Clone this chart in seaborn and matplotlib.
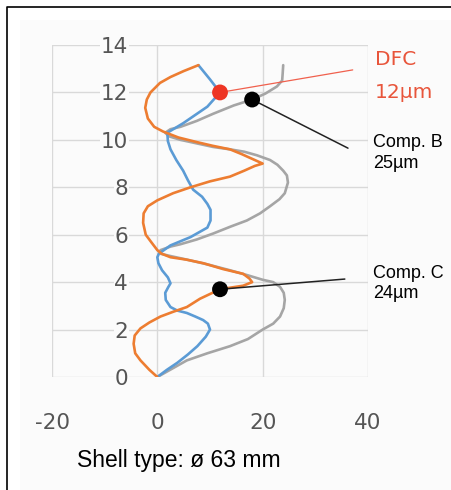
import pandas as pd
import matplotlib.pyplot as plt
import seaborn as sns
from matplotlib.lines import Line2D
from matplotlib.patches import Rectangle

# depth (y) vs deviation (x), bottom to top
blue_y = [0, 0.3, 0.6, 0.95, 1.3, 1.7, 2.0, 2.25, 2.4, 2.55, 2.7, 2.8, 2.95, 3.25, 3.55,
          3.8, 3.95, 4.2, 4.5, 4.8, 5.05, 5.2, 5.55, 5.9, 6.3, 6.6, 7.05, 7.3, 7.6, 7.9,
          8.3, 8.7, 9.15, 9.6, 9.95, 10.3, 10.7, 11.4, 12.0, 12.55, 13.15]
blue_x = [0, 1.8, 3.8, 5.8, 7.6, 9.2, 10.0, 9.6, 8.7, 7.2, 5.6, 3.8, 2.5, 1.6, 1.5,
          2.1, 2.5, 2.0, 0.9, 0.2, 0.0, 0.3, 2.5, 6.3, 9.5, 10.1, 10.1, 9.5, 8.5, 6.8,
          5.8, 4.9, 3.6, 2.5, 2.0, 1.9, 4.9, 9.5, 11.9, 10.0, 7.8]

orange_y = [0, 0.3, 0.7, 1.0, 1.4, 1.75, 2.05, 2.3, 2.55, 2.75, 2.95, 3.3, 3.7, 3.85, 4.0,
            4.15, 4.35, 4.55, 4.8, 4.95, 5.05, 5.2, 5.35, 5.7, 6.0, 6.5, 6.9, 7.2, 7.45,
            7.75, 8.0, 8.25, 8.45, 8.7, 8.9, 9.0, 9.15, 9.4, 9.6, 9.75, 9.9, 10.1, 10.35,
            10.55, 10.9, 11.35, 11.7, 12.0, 12.4, 12.65, 12.9, 13.15]
orange_x = [0, -1.5, -3.2, -4.2, -4.5, -4.3, -3.2, -1.5, 0.6, 3.0, 5.6, 8.1, 11.9, 16.3, 18.0,
            17.5, 16.3, 12.5, 8.7, 5.5, 2.5, 0.8, 0.0, -1.2, -2.2, -2.7, -2.6, -1.8, 0.0,
            3.0, 6.3, 10.0, 13.8, 16.5, 18.5, 20.0, 18.5, 16.0, 13.8, 10.5, 7.6, 4.0, 1.1,
            -0.6, -1.8, -2.3, -2.0, -1.3, 0.5, 2.5, 5.0, 7.8]

gray_y = [0, 0.35, 0.7, 1.0, 1.3, 1.6, 2.0, 2.25, 2.55, 2.9, 3.25, 3.55, 3.8, 4.0, 4.1,
          4.3, 4.5, 4.75, 4.95, 5.1, 5.2, 5.35, 5.5, 5.6, 5.8, 6.05, 6.35, 6.6, 6.9, 7.2,
          7.5, 7.75, 8.2, 8.5, 8.7, 8.95, 9.15, 9.35, 9.5, 9.6, 9.7, 9.85, 10.0, 10.15,
          10.3, 10.45, 10.55, 10.8, 11.1, 11.45, 11.7, 11.95, 12.25, 12.5, 12.8, 13.15]
gray_x = [0, 2.8, 5.6, 9.5, 13.8, 17.2, 20.0, 22.0, 23.3, 24.0, 24.2, 24.0, 23.3, 22.0, 20.0,
          17.0, 13.8, 9.5, 5.6, 2.5, 0.6, 0.6, 2.5, 4.4, 7.5, 10.6, 14.0, 17.0, 19.5, 21.4,
          23.2, 24.2, 24.8, 24.6, 23.9, 22.8, 21.4, 18.9, 16.5, 13.8, 10.6, 7.5, 4.4, 2.2,
          1.5, 2.5, 4.4, 7.5, 10.6, 14.5, 18.0, 20.5, 22.7, 23.7, 23.8, 23.9]

# marked points and where their callout lines end
dfc_pt = (11.9, 12.0)
dfc_end = (37.1, 12.95)
compb_pt = (18.0, 11.7)
compb_end = (36.2, 9.65)
compc_pt = (11.9, 3.7)
compc_end = (35.6, 4.13)

x_ticks = [-20, 0, 20, 40]
y_ticks = [0, 2, 4, 6, 8, 10, 12, 14]

sns.set_theme(style="white")
plt.rcParams['font.family'] = ['DejaVu Sans']

bg = '#fbfbfb'
fig = plt.figure(figsize=(4.52, 4.90), dpi=100)
fig.patch.set_facecolor('white')
fig.add_artist(Rectangle((20 / 452, 0), 1, 1 - 20 / 490, transform=fig.transFigure,
                         facecolor=bg, edgecolor='none', zorder=0))
fig.add_artist(Line2D([7 / 452, 7 / 452, 1], [0, 1 - 7 / 490, 1 - 7 / 490],
                      transform=fig.transFigure, color='black', lw=1.2))

ax = fig.add_axes([52 / 452, 1 - 377 / 490, 316 / 452, 332 / 490])
ax.set_facecolor('none')

curves = pd.concat([
    pd.DataFrame({'x': blue_x, 'y': blue_y, 'series': 'blue'}),
    pd.DataFrame({'x': orange_x, 'y': orange_y, 'series': 'orange'}),
    pd.DataFrame({'x': gray_x, 'y': gray_y, 'series': 'gray'}),
])
palette = {'blue': '#5b9bd5', 'orange': '#ed7d31', 'gray': '#a5a5a5'}
for name in ['gray', 'blue', 'orange']:
    sub = curves[curves['series'] == name]
    sns.lineplot(data=sub, x='x', y='y', sort=False, estimator=None, color=palette[name],
                 lw=1.9, ax=ax, solid_capstyle='round', solid_joinstyle='round')

# callout lines
ax.plot([dfc_pt[0], dfc_end[0]], [dfc_pt[1], dfc_end[1]], color='#f0604d', lw=0.9, zorder=4)
ax.plot([compb_pt[0], compb_end[0]], [compb_pt[1], compb_end[1]], color='#222222', lw=1.1, zorder=4)
ax.plot([compc_pt[0], compc_end[0]], [compc_pt[1], compc_end[1]], color='#222222', lw=1.1, zorder=4)

pts = pd.DataFrame({'x': [dfc_pt[0], compb_pt[0], compc_pt[0]],
                    'y': [dfc_pt[1], compb_pt[1], compc_pt[1]],
                    'kind': ['dfc', 'b', 'c']})
sns.scatterplot(data=pts, x='x', y='y', hue='kind',
                palette={'dfc': '#ee3524', 'b': 'black', 'c': 'black'},
                s=130, edgecolor='none', legend=False, ax=ax, zorder=5)

ax.set_xlim(-20, 40)
ax.set_ylim(0, 14)
ax.set_xticks(x_ticks)
ax.set_yticks(y_ticks)
ax.set_xticklabels([str(v) for v in x_ticks])
ax.set_yticklabels([str(v) for v in y_ticks])
ax.grid(True, color='#d9d9d9', lw=1.0)
ax.set_axisbelow(True)
for s in ax.spines.values():
    s.set_visible(False)
ax.set_xlabel('')
ax.set_ylabel('')
ax.tick_params(axis='both', length=0, labelsize=15.5, labelcolor='#555555')
ax.tick_params(axis='x', pad=26)
ax.tick_params(axis='y', pad=-54.7)
for lbl in ax.get_yticklabels():
    lbl.set_bbox(dict(facecolor=bg, edgecolor='none', pad=0.5))

# annotations
fig.text(375 / 452, 1 - 65 / 490, 'DFC', color='#e8553b', fontsize=14.5, va='baseline')
fig.text(375 / 452, 1 - 98 / 490, '12µm', color='#e8553b', fontsize=14.5, va='baseline')
fig.text(373 / 452, 1 - 147 / 490, 'Comp. B', color='black', fontsize=13,
         family='Liberation Sans', va='baseline')
fig.text(373 / 452, 1 - 168 / 490, '25µm', color='black', fontsize=13,
         family='Liberation Sans', va='baseline')
fig.text(373 / 452, 1 - 278 / 490, 'Comp. C', color='black', fontsize=13,
         family='Liberation Sans', va='baseline')
fig.text(373 / 452, 1 - 298 / 490, '24µm', color='black', fontsize=13,
         family='Liberation Sans', va='baseline')
fig.text(77 / 452, 1 - 467 / 490, 'Shell type: ø 63 mm', color='black', fontsize=16.5,
         family='Liberation Sans', va='baseline')

fig.savefig('out.png', dpi=100)
